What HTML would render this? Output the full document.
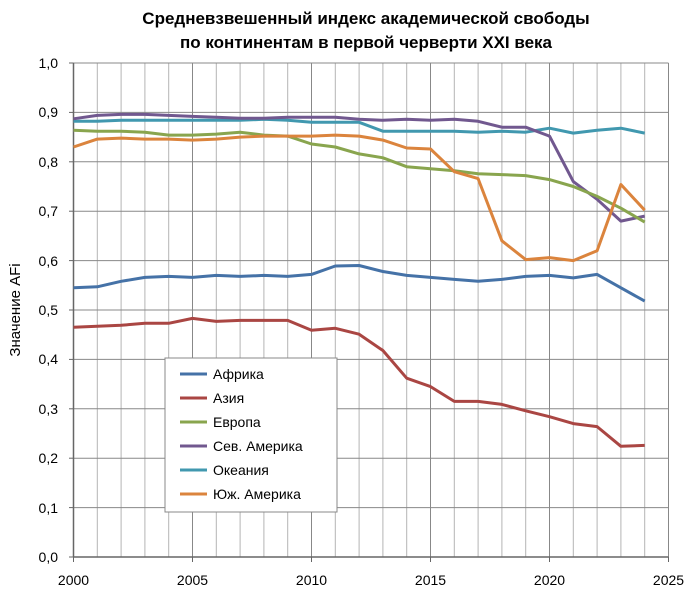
<!DOCTYPE html>
<html><head><meta charset="utf-8"><style>
body{margin:0;background:#fff}
svg{display:block;font-family:"Liberation Sans",sans-serif}
</style></head><body>
<svg id="s" width="688" height="596" xmlns="http://www.w3.org/2000/svg">
<rect width="688" height="596" fill="#fff"/>
<text x="366" y="24" text-anchor="middle" font-size="17" font-weight="bold" fill="#000">Средневзвешенный  индекс академической свободы</text>
<text x="366" y="48" text-anchor="middle" font-size="17" font-weight="bold" fill="#000">по континентам  в первой черверти XXI века</text>
<g id="grid"></g>
<g font-size="14" fill="#000" text-anchor="end">
<text x="58" y="562">0,0</text><text x="58" y="513">0,1</text><text x="58" y="463">0,2</text><text x="58" y="414">0,3</text><text x="58" y="364">0,4</text><text x="58" y="315">0,5</text><text x="58" y="266">0,6</text><text x="58" y="216">0,7</text><text x="58" y="167">0,8</text><text x="58" y="117">0,9</text><text x="58" y="68">1,0</text>
</g>
<g font-size="14" fill="#000" text-anchor="middle">
<text x="73.5" y="585">2000</text><text x="192.5" y="585">2005</text><text x="311.5" y="585">2010</text><text x="430.5" y="585">2015</text><text x="549.5" y="585">2020</text><text x="668.5" y="585">2025</text>
</g>
<text transform="translate(20,310) rotate(-90)" text-anchor="middle" font-size="15" fill="#000">Значение AFi</text>
<g id="lines"></g>
<rect x="165" y="358" width="172" height="154" fill="#fff" stroke="#888"/>
<g font-size="14" fill="#000">
<line x1="180" y1="374" x2="207" y2="374" stroke="#4572A7" stroke-width="3"/><text x="213" y="379">Африка</text>
<line x1="180" y1="398" x2="207" y2="398" stroke="#AA4643" stroke-width="3"/><text x="213" y="403">Азия</text>
<line x1="180" y1="422" x2="207" y2="422" stroke="#89A54E" stroke-width="3"/><text x="213" y="427">Европа</text>
<line x1="180" y1="446" x2="207" y2="446" stroke="#71588F" stroke-width="3"/><text x="213" y="451">Сев. Америка</text>
<line x1="180" y1="470" x2="207" y2="470" stroke="#4198AF" stroke-width="3"/><text x="213" y="475">Океания</text>
<line x1="180" y1="494" x2="207" y2="494" stroke="#DB843D" stroke-width="3"/><text x="213" y="499">Юж. Америка</text>
</g>
</svg>
<script>
function X(i){return 73.5+23.8*i}
function Y(v){return 557-494*v}
var g=document.getElementById("grid"),h="";
for(var i=0;i<=25;i++){var x=X(i);h+='<line x1="'+x+'" y1="63" x2="'+x+'" y2="557" stroke="'+(i%5==0?'#888':'#b4b4b4')+'" stroke-width="1"/>';}
for(var k=1;k<=10;k++){var y=Y(k/10);h+='<line x1="73.5" y1="'+y+'" x2="668.5" y2="'+y+'" stroke="#888" stroke-width="1"/>';}
h+='<line x1="73.5" y1="557" x2="668.5" y2="557" stroke="#666" stroke-width="1.5"/>';
h+='<line x1="73.5" y1="63" x2="73.5" y2="557" stroke="#666" stroke-width="1.5"/>';
for(var k=0;k<=10;k++){h+='<line x1="69" y1="'+Y(k/10)+'" x2="73.5" y2="'+Y(k/10)+'" stroke="#666"/>';}
for(var i=0;i<=25;i+=5){h+='<line x1="'+X(i)+'" y1="557" x2="'+X(i)+'" y2="562" stroke="#666"/>';}
g.innerHTML=h;
var D=[
["#4198AF",[.882,.882,.884,.884,.884,.884,.884,.884,.886,.884,.880,.880,.880,.862,.862,.862,.862,.860,.862,.860,.868,.858,.864,.868,.858]],
["#71588F",[.887,.894,.896,.896,.894,.892,.890,.888,.888,.890,.890,.890,.886,.884,.886,.884,.886,.882,.870,.870,.852,.760,.724,.680,.690]],
["#89A54E",[.864,.862,.862,.860,.854,.854,.856,.860,.854,.852,.836,.830,.816,.808,.790,.786,.782,.776,.774,.772,.764,.750,.730,.706,.678]],
["#DB843D",[.830,.846,.848,.846,.846,.844,.846,.850,.852,.852,.852,.854,.852,.844,.828,.826,.780,.766,.640,.602,.606,.600,.620,.754,.702]],
["#4572A7",[.545,.547,.558,.566,.568,.566,.570,.568,.570,.568,.572,.589,.590,.578,.570,.566,.562,.558,.562,.568,.570,.565,.572,.545,.518]],
["#AA4643",[.465,.467,.469,.473,.473,.483,.477,.479,.479,.479,.459,.463,.451,.418,.362,.345,.315,.315,.309,.296,.284,.270,.264,.224,.226]]];
var L=document.getElementById("lines"),s="";
D.forEach(function(d){var p=d[1].map(function(v,i){return X(i).toFixed(1)+","+Y(v).toFixed(1)}).join(" ");
s+='<polyline points="'+p+'" fill="none" stroke="'+d[0]+'" stroke-width="3" stroke-linejoin="round"/>';});
L.innerHTML=s;
</script>
</body></html>
